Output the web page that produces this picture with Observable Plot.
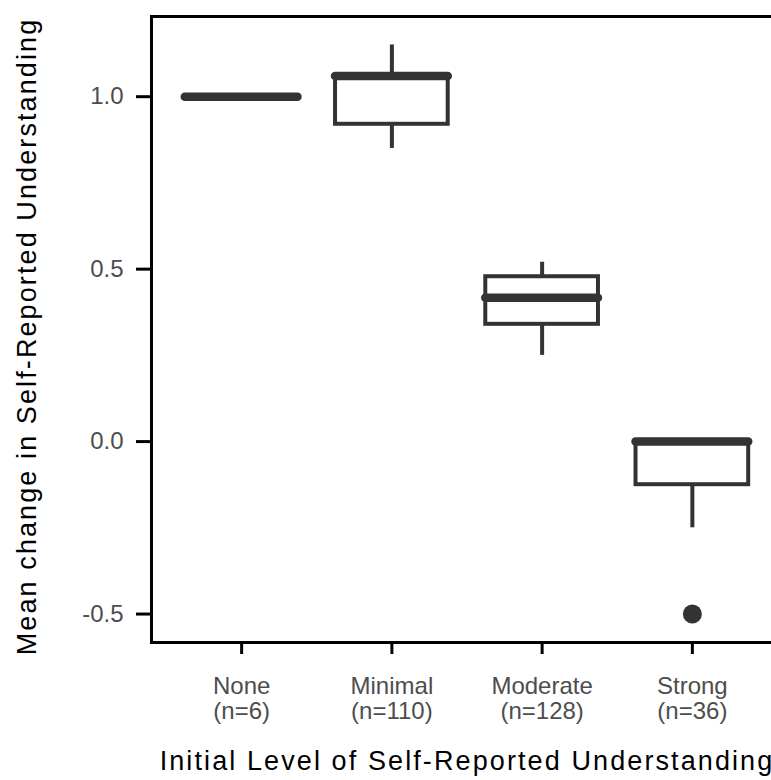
<!DOCTYPE html>
<html>
<head>
<meta charset="utf-8">
<script src="https://cdn.jsdelivr.net/npm/d3@7"></script>
<script src="https://cdn.jsdelivr.net/npm/@observablehq/plot@0.6"></script>
<style>
  html, body { margin: 0; padding: 0; background: #fff; overflow: hidden; width: 771px; height: 780px; }
  #chart { width: 771px; height: 780px; overflow: hidden; }
  #chart svg { max-width: none !important; }
  [aria-label="x-title"], [aria-label="y-title"] { letter-spacing: 2.1px; }
</style>
</head>
<body>
<div id="chart"></div>
<script>
// Data
const categories = ["None", "Minimal", "Moderate", "Strong"];
const nValues = [6, 110, 128, 36];
const whiskerLow = [1.0, 0.85, 0.25, -0.25];
const q1 = [1.0, 0.92, 0.34, -0.125];
const medians = [1.0, 1.06, 0.417, 0.0];
const q3 = [1.0, 1.06, 0.478, 0.0];
const whiskerHigh = [1.0, 1.15, 0.52, 0.0];
const outlierCategory = ["Strong"];
const outlierValue = [-0.5];
const yTicks = [-0.5, 0, 0.5, 1.0];
const xTitle = "Initial Level of Self-Reported Understanding";
const yTitle = "Mean change in Self-Reported Understanding";

const boxes = categories.map((c, k) => ({
  i: k + 1, cat: c, lo: whiskerLow[k], q1: q1[k], med: medians[k], q3: q3[k], hi: whiskerHigh[k]
}));
const outliers = outlierCategory.map((c, k) => ({ i: categories.indexOf(c) + 1, v: outlierValue[k] }));
const halfWidth = 0.375;
const boxColor = "#333333";

const chart = Plot.plot({
  width: 790,
  height: 780,
  marginLeft: 151,
  marginRight: 8,
  marginTop: 16,
  marginBottom: 138,
  style: { fontFamily: "'Liberation Sans', Arial, sans-serif", fontSize: "24px", background: "#fff", overflow: "visible", maxWidth: "none" },
  x: { type: "linear", domain: [0.4, 4.6] },
  y: { domain: [-0.5825, 1.2325] },
  marks: [
    // whiskers
    Plot.ruleX(boxes, { x: "i", y1: "q3", y2: "hi", stroke: boxColor, strokeWidth: 4 }),
    Plot.ruleX(boxes, { x: "i", y1: "lo", y2: "q1", stroke: boxColor, strokeWidth: 4 }),
    // boxes
    Plot.rect(boxes, {
      x1: d => d.i - halfWidth, x2: d => d.i + halfWidth, y1: "q1", y2: "q3",
      fill: "white", stroke: boxColor, strokeWidth: 4
    }),
    // medians
    Plot.ruleY(boxes, {
      y: "med", x1: d => d.i - halfWidth, x2: d => d.i + halfWidth,
      stroke: boxColor, strokeWidth: 8.5, strokeLinecap: "round"
    }),
    // outliers
    Plot.dot(outliers, { x: "i", y: "v", r: 9.5, fill: boxColor, stroke: "none" }),
    // panel border
    Plot.frame({ stroke: "black", strokeWidth: 3 }),
    // axes
    Plot.axisY({
      ticks: yTicks, tickFormat: d => d.toFixed(1), tickSize: 15, tickPadding: 13,
      stroke: "black", strokeWidth: 3, fill: "#4d4d4d", fontSize: 24, label: null
    }),
    Plot.axisX({
      ticks: [1, 2, 3, 4], tickFormat: i => `${categories[i - 1]}\n(n=${nValues[i - 1]})`,
      tickSize: 12, tickPadding: 22, stroke: "black", strokeWidth: 3, fill: "#4d4d4d",
      fontSize: 24, lineHeight: 1.04, label: null
    }),
    // axis titles
    Plot.text([yTitle], { frameAnchor: "left", dx: -124, dy: 7, rotate: -90, fontSize: 27, fill: "black", textAnchor: "middle", lineAnchor: "middle", ariaLabel: () => "y-title" }),
    Plot.text([xTitle], { frameAnchor: "bottom", dy: 119, fontSize: 27, fill: "black", lineAnchor: "middle", ariaLabel: () => "x-title" })
  ]
});
document.getElementById("chart").appendChild(chart);
</script>
</body>
</html>
